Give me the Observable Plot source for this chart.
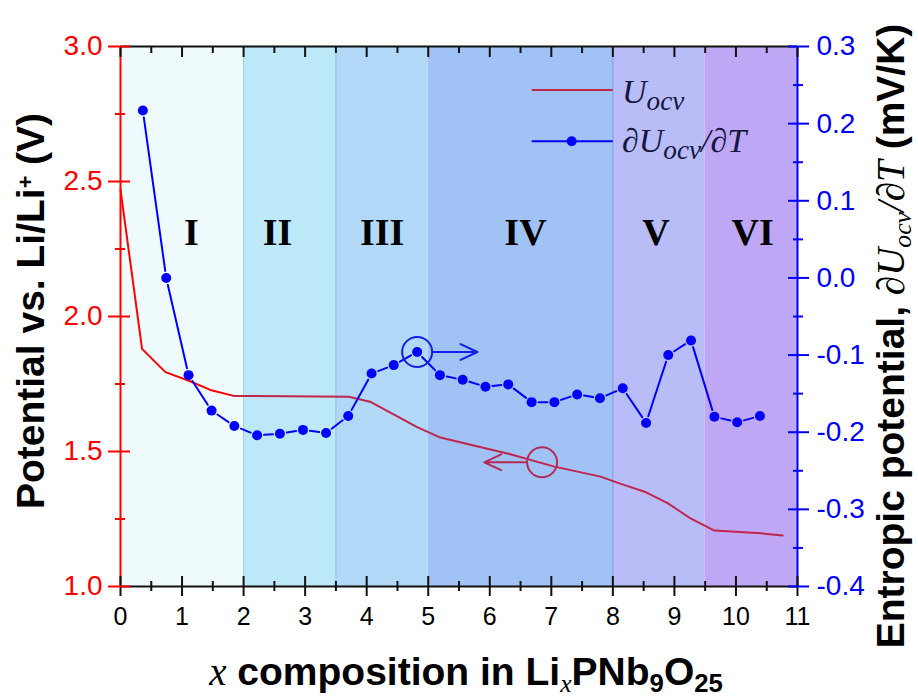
<!DOCTYPE html>
<html><head><meta charset="utf-8">
<script src="https://cdn.jsdelivr.net/npm/d3@7"></script>
<script src="https://cdn.jsdelivr.net/npm/@observablehq/plot@0.6"></script>
<style>
body{margin:0;background:#fff;}
#wrap{position:relative;width:918px;height:699px;overflow:hidden;font-family:"Liberation Sans",Arial,sans-serif;}
#wrap > svg{position:absolute;left:0;top:0;}
.ttl{position:absolute;font-weight:bold;font-size:39px;line-height:1;white-space:nowrap;color:#000;}
.ser{font-family:"Liberation Serif","Times New Roman",serif;font-style:italic;font-weight:normal;}
.sub{position:relative;top:0.26em;font-size:0.66em;}
.sup{position:relative;top:-0.5em;font-size:0.55em;}
.leg{position:absolute;font-family:"Liberation Serif","Times New Roman",serif;font-style:italic;font-size:34px;line-height:1;white-space:nowrap;color:#16163e;}
.leg .s{position:relative;top:0.25em;font-size:0.8em;}
</style></head>
<body><div id="wrap"></div>
<script>
// ---- data ----
const uX = [0, 0.35, 0.73, 1.10, 1.46, 1.84, 3.71, 4.07, 4.82, 5.18, 5.96, 6.32, 7.05, 7.80, 8.13, 8.54, 8.89, 9.27, 9.65, 10.41, 10.76];
const uV = [2.47, 1.88, 1.794, 1.763, 1.728, 1.706, 1.703, 1.683, 1.59, 1.553, 1.51, 1.491, 1.444, 1.407, 1.38, 1.349, 1.309, 1.251, 1.207, 1.197, 1.189];
const eX = [0.363, 0.743, 1.106, 1.48, 1.85, 2.22, 2.59, 2.965, 3.34, 3.70, 4.08, 4.44, 4.82, 5.19, 5.56, 5.93, 6.30, 6.68, 7.05, 7.42, 7.79, 8.16, 8.54, 8.90, 9.27, 9.65, 10.02, 10.39];
const eV = [0.217, 0.000, -0.126, -0.172, -0.192, -0.204, -0.202, -0.197, -0.201, -0.179, -0.124, -0.113, -0.096, -0.126, -0.132, -0.141, -0.138, -0.161, -0.161, -0.151, -0.156, -0.143, -0.188, -0.100, -0.081, -0.180, -0.187, -0.179];
const regionStart = [0, 2, 3.5, 5, 8, 9.5];
const regionEnd = [2, 3.5, 5, 8, 9.5, 11];
const regionName = ["I", "II", "III", "IV", "V", "VI"];
const regionLabelX = [1.15, 2.55, 4.25, 6.58, 8.7, 10.27];
const regionLabelY = [2.31, 2.31, 2.31, 2.31, 2.31, 2.31];
const boundaryX = [2, 3.5, 8];
const leftTicks = [1, 1.5, 2, 2.5, 3];
const leftMinor = [1.25, 1.75, 2.25, 2.75];
const rightTicks = [-0.4, -0.3, -0.2, -0.1, 0, 0.1, 0.2, 0.3];
const rightMinor = [-0.35, -0.25, -0.15, -0.05, 0.05, 0.15, 0.25];
const xTicks = [0,1,2,3,4,5,6,7,8,9,10,11];
const xMinor = [0.5,1.5,2.5,3.5,4.5,5.5,6.5,7.5,8.5,9.5,10.5];
// annotation: circle on each curve, arrow pointing to its axis
const annCx = [4.82, 6.85];
const annCy = [null, 1.46];       // left-axis value for the Uocv circle
const annCe = [-0.096, null];     // right-axis value for the entropic circle
const annToX = [5.80, 5.91];

// ---- styles ----
const regionFill = ["#effafc", "#bce8f8", "#b2d8f7", "#a0c2f5", "#b8bdf8", "#bea8f6"];
const boundaryStroke = ["#98d6ef", "#7fc2ee", "#7095ea"];
const RED = "#ff0000", CRIMSON = "#c0264c", BLUE = "#0000ff";

// right axis (-0.4..0.3) mapped onto left axis (1..3)
const toLeft = e => 1 + (e + 0.4) / 0.7 * 2;
const fromLeft = v => (v - 1) / 2 * 0.7 - 0.4;

const regions = regionStart.map((s, i) => ({x1: s, x2: regionEnd[i], fill: regionFill[i], name: regionName[i], lx: regionLabelX[i], ly: regionLabelY[i]}));
const bounds = boundaryX.map((x, i) => ({x, c: boundaryStroke[i]}));
const uData = uX.map((x, i) => ({x, v: uV[i]}));
const cut = uX.findIndex(x => x > 2) - 1;
const u1 = uData.slice(0, cut + 1), u2 = uData.slice(cut);
const eData = eX.map((x, i) => ({x, v: toLeft(eV[i])}));
const segs = eData.slice(1).map((d, i) => ({x1: eData[i].x, y1: eData[i].v, x2: d.x, y2: d.v}));
const ann = annCx.map((x, i) => {
  const y = annCy[i] != null ? annCy[i] : toLeft(annCe[i]);
  return {x, y, x2: annToX[i], c: i === 0 ? "#1020e8" : "#b42c56"};
});
const fmtR = v => (Math.round(fromLeft(v) * 10) / 10).toFixed(1);
const none = () => "";

const chart = Plot.plot({
  width: 918, height: 699,
  marginLeft: 120, marginRight: 121, marginTop: 46, marginBottom: 113,
  x: {domain: [0, 11], axis: null},
  y: {domain: [1, 3], axis: null},
  color: {type: "identity"},
  style: {fontFamily: "'Liberation Sans', Arial, sans-serif", fontSize: "25px", background: "transparent", overflow: "visible"},
  marks: [
    Plot.rect(regions, {x1: "x1", x2: "x2", fill: "fill"}),
    Plot.ruleX(bounds, {x: "x", stroke: "c", strokeWidth: 1}),
    Plot.line(u1, {x: "x", y: "v", stroke: RED, strokeWidth: 2}),
    Plot.line(u2, {x: "x", y: "v", stroke: CRIMSON, strokeWidth: 2}),
    Plot.arrow(segs, {x1: "x1", y1: "y1", x2: "x2", y2: "y2", stroke: BLUE, strokeWidth: 2, headLength: 0, insetStart: 7, insetEnd: 7}),
    Plot.dot(eData, {x: "x", y: "v", r: 5, fill: BLUE, stroke: null}),
    Plot.dot(ann, {x: "x", y: "y", r: 15, stroke: "c", fill: "none", strokeWidth: 2}),
    Plot.arrow(ann, {x1: "x", y1: "y", x2: "x2", y2: "y", stroke: "c", strokeWidth: 2, headLength: 14, headAngle: 50, insetStart: 15}),
    Plot.text(regions, {x: "lx", y: "ly", text: "name", fontFamily: "'Liberation Serif', 'Times New Roman', serif", fontWeight: "bold", fontSize: 38, fill: "#000"}),
    // frame
    Plot.ruleY([1, 3], {stroke: "#111", strokeWidth: 2}),
    Plot.ruleX([0], {stroke: RED, strokeWidth: 2}),
    Plot.ruleX([11], {stroke: BLUE, strokeWidth: 2}),
    // bottom / top axes
    Plot.axisX(xTicks, {anchor: "bottom", tickSize: 20, dy: -10, color: "#111", strokeWidth: 2, tickFormat: none, label: null}),
    Plot.axisX(xMinor, {anchor: "bottom", tickSize: 10, dy: -5, color: "#111", strokeWidth: 2, tickFormat: none, label: null}),
    Plot.axisX(xTicks, {anchor: "bottom", tickSize: 0, tickPadding: 21, fontSize: 25, color: "#000", label: null}),
    Plot.axisX(xTicks, {anchor: "top", tickSize: 10, dy: 10, color: "#111", strokeWidth: 2, tickFormat: none, label: null}),
    Plot.axisX(xMinor, {anchor: "top", tickSize: 6, dy: 6, color: "#111", strokeWidth: 2, tickFormat: none, label: null}),
    // left axis
    Plot.axisY(leftTicks, {anchor: "left", tickSize: 22, dx: 10, color: RED, strokeWidth: 2, tickFormat: none, label: null}),
    Plot.axisY(leftMinor, {anchor: "left", tickSize: 10, dx: 5, color: RED, strokeWidth: 2, tickFormat: none, label: null}),
    Plot.axisY(leftTicks, {anchor: "left", tickSize: 0, tickPadding: 18, color: RED, fontSize: 28, tickFormat: d => d.toFixed(1), label: null}),
    // right axis
    Plot.axisY(rightTicks.map(toLeft), {anchor: "right", tickSize: 21, dx: -10, color: BLUE, strokeWidth: 2, tickFormat: none, label: null}),
    Plot.axisY(rightMinor.map(toLeft), {anchor: "right", tickSize: 10, dx: -5, color: BLUE, strokeWidth: 2, tickFormat: none, label: null}),
    Plot.axisY(rightTicks.map(toLeft), {anchor: "right", tickSize: 0, tickPadding: 19, color: BLUE, fontSize: 28, tickFormat: fmtR, label: null})
  ]
});
const wrap = document.getElementById("wrap");
wrap.appendChild(chart);
// make sure axis tick labels get their intended sizes
d3.select(chart).selectAll('g[aria-label="y-axis tick label"]').attr("font-size", 28).selectAll("text").attr("font-size", 28);
d3.select(chart).selectAll('g[aria-label="x-axis tick label"]').attr("font-size", 25).selectAll("text").attr("font-size", 25);

// titles
wrap.insertAdjacentHTML("beforeend", `
<div class="ttl" style="left:0;width:918px;text-align:center;top:652px;padding-left:14px;box-sizing:border-box;"><span class="ser">x</span> composition in Li<span class="sub ser">x</span>PNb<span class="sub">9</span>O<span class="sub">25</span></div>
<div class="ttl" style="left:30px;top:311px;transform:translate(-50%,-50%) rotate(-90deg);">Potential vs. Li/Li<span class="sup">+</span> (V)</div>
<div class="ttl" style="left:890px;top:336px;transform:translate(-50%,-50%) rotate(-90deg);">Entropic potential, <span class="ser">&#8706;U<span class="sub">ocv</span>/&#8706;T</span> (mV/K)</div>
<svg width="100" height="160" style="position:absolute;left:520px;top:70px;overflow:visible">
  <line x1="11.7" x2="92.7" y1="20" y2="20" stroke="${CRIMSON}" stroke-width="2"/>
  <line x1="11.7" x2="92.7" y1="71.3" y2="71.3" stroke="${BLUE}" stroke-width="2"/>
  <circle cx="51.7" cy="71.3" r="5" fill="${BLUE}"/>
</svg>
<div class="leg" style="left:622px;top:75px;">U<span class="s">ocv</span></div>
<div class="leg" style="left:622px;top:124px;">&#8706;U<span class="s">ocv</span>/&#8706;T</div>
`);
</script></body></html>
